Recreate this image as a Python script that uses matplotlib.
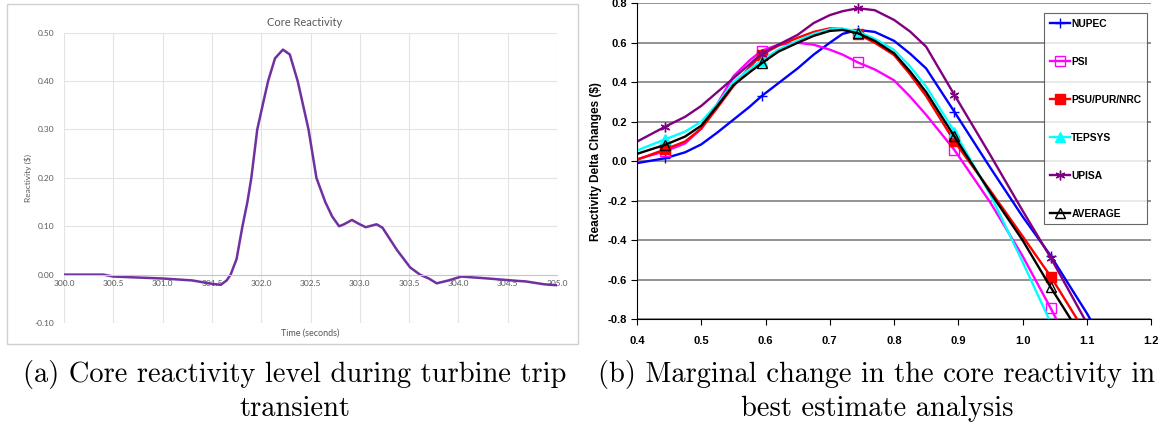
import matplotlib
matplotlib.use("Agg")
import matplotlib.pyplot as plt
from matplotlib.patches import Rectangle
from matplotlib.ticker import FormatStrFormatter, MultipleLocator

# (a) core reactivity during turbine trip
time_s = [300.0, 300.4, 300.5, 301.0, 301.3, 301.5, 301.59, 301.65, 301.69, 301.75,
          301.81, 301.86, 301.90, 301.96, 302.02, 302.07, 302.14, 302.22, 302.29, 302.37,
          302.48, 302.56, 302.65, 302.72, 302.79, 302.84, 302.92, 302.99, 303.06, 303.17,
          303.23, 303.30, 303.38, 303.51, 303.61, 303.70, 303.78, 303.90, 304.03, 304.3,
          304.6, 304.68, 304.87, 305.0]
reactivity = [0.0, 0.0, -0.004, -0.008, -0.012, -0.019, -0.021, -0.012, 0.0, 0.032,
              0.10, 0.15, 0.20, 0.30, 0.355, 0.40, 0.447, 0.465, 0.455, 0.40,
              0.30, 0.20, 0.15, 0.12, 0.10, 0.104, 0.113, 0.105, 0.098, 0.104,
              0.097, 0.075, 0.05, 0.015, 0.0, -0.008, -0.018, -0.012, -0.004, -0.008,
              -0.013, -0.014, -0.02, -0.022]

# (b) reactivity delta changes
x_curve = [0.40, 0.444, 0.475, 0.50, 0.525, 0.55, 0.575, 0.594, 0.62, 0.65,
           0.675, 0.70, 0.72, 0.744, 0.77, 0.80, 0.825, 0.85, 0.894, 0.95,
           1.00, 1.044, 1.10, 1.15]
marker_idx = [1, 7, 13, 18, 21]
nupec = [-0.01, 0.015, 0.045, 0.085, 0.145, 0.21, 0.275, 0.33, 0.395, 0.47,
         0.54, 0.60, 0.645, 0.665, 0.655, 0.61, 0.545, 0.47, 0.25, -0.034,
         -0.28, -0.48, -0.77, -1.05]
psi = [0.01, 0.05, 0.09, 0.165, 0.29, 0.43, 0.51, 0.56, 0.59, 0.60,
       0.59, 0.565, 0.54, 0.50, 0.465, 0.41, 0.327, 0.235, 0.057, -0.21,
       -0.48, -0.746, -1.10, -1.45]
psu = [0.007, 0.06, 0.10, 0.165, 0.27, 0.38, 0.475, 0.54, 0.585, 0.625,
       0.655, 0.673, 0.67, 0.643, 0.60, 0.538, 0.44, 0.33, 0.10, -0.15,
       -0.38, -0.585, -0.88, -1.17]
tepsys = [0.054, 0.111, 0.15, 0.20, 0.29, 0.40, 0.465, 0.51, 0.565, 0.61,
          0.645, 0.668, 0.672, 0.657, 0.62, 0.564, 0.48, 0.378, 0.15, -0.17,
          -0.51, -0.82, -1.20, -1.60]
upisa = [0.099, 0.175, 0.225, 0.28, 0.35, 0.42, 0.49, 0.545, 0.59, 0.64,
         0.70, 0.74, 0.76, 0.775, 0.765, 0.716, 0.657, 0.58, 0.336, 0.03,
         -0.25, -0.49, -0.82, -1.15]
average = [0.037, 0.083, 0.125, 0.18, 0.28, 0.385, 0.45, 0.496, 0.555, 0.60,
           0.635, 0.66, 0.665, 0.648, 0.61, 0.547, 0.455, 0.35, 0.125, -0.16,
           -0.40, -0.64, -0.93, -1.22]

series = [
    ("NUPEC", nupec, "#0000FF", "+", "#0000FF"),
    ("PSI", psi, "#FF00FF", "s", "none"),
    ("PSU/PUR/NRC", psu, "#FF0000", "s", "#FF0000"),
    ("TEPSYS", tepsys, "#00FFFF", "^", "#00FFFF"),
    ("UPISA", upisa, "#800080", (6, 2, 0), "#800080"),
    ("AVERAGE", average, "#000000", "^", "none"),
]

caption_a = "(a) Core reactivity level during turbine trip\ntransient"
caption_b = "(b) Marginal change in the core reactivity in\nbest estimate analysis"

W, H = 1168, 429
fig = plt.figure(figsize=(W / 100, H / 100), dpi=100)


def box(x0, y0, x1, y1):
    # pixel box (top-left origin) -> figure fraction rect
    return [x0 / W, 1 - y1 / H, (x1 - x0) / W, (y1 - y0) / H]


# ---- left panel (Excel style) ----
fig.patches.append(Rectangle((7 / W, 1 - 344 / H), 571 / W, 340 / H, transform=fig.transFigure,
                             fill=False, edgecolor="#d0d0d0", lw=1.0))
ax1 = fig.add_axes(box(64, 32.7, 557, 323))
ax1.plot(time_s, reactivity, color="#7030A0", lw=1.8)
ax1.set_xlim(300, 305)
ax1.set_ylim(-0.1, 0.5)
ax1.xaxis.set_major_locator(MultipleLocator(0.5))
ax1.yaxis.set_major_locator(MultipleLocator(0.1))
ax1.xaxis.set_major_formatter(FormatStrFormatter("%.1f"))
ax1.yaxis.set_major_formatter(FormatStrFormatter("%.2f"))
ax1.grid(True, color="#e3e3e3", lw=0.8)
ax1.set_axisbelow(True)
for s in ["top", "right", "left"]:
    ax1.spines[s].set_visible(False)
ax1.spines["bottom"].set_position(("data", 0))
ax1.spines["bottom"].set_color("#c8c8c8")
ax1.tick_params(length=0, labelsize=6, labelcolor="#595959", pad=4)
ax1.tick_params(axis="y", pad=7)
for lab in ax1.get_xticklabels() + ax1.get_yticklabels():
    lab.set_family("Lato")
fig.text(305 / W, 1 - 22 / H, "Core Reactivity", ha="center", va="center",
         fontsize=8, color="#595959", family="Lato")
fig.text(28 / W, 1 - 178 / H, "Reactivity (\\$)", ha="center", va="center", rotation=90,
         fontsize=6, color="#595959", family="Lato")
fig.text(310 / W, 1 - 333 / H, "Time (seconds)", ha="center", va="center",
         fontsize=6.5, color="#595959", family="Lato")

# ---- right panel ----
ax2 = fig.add_axes(box(637, 3.3, 1151, 319))
for name, vals, col, mk, face in series:
    ax2.plot(x_curve, vals, color=col, lw=1.7, marker=mk, markevery=marker_idx,
             markersize=7, markerfacecolor=face, markeredgecolor=col, markeredgewidth=1.0,
             label=name)
ax2.set_xlim(0.4, 1.2)
ax2.set_ylim(-0.8, 0.8)
ax2.xaxis.set_major_locator(MultipleLocator(0.1))
ax2.yaxis.set_major_locator(MultipleLocator(0.2))
ax2.xaxis.set_major_formatter(FormatStrFormatter("%.1f"))
ax2.yaxis.set_major_formatter(FormatStrFormatter("%.1f"))
ax2.grid(True, axis="y", color="#808080", lw=1.2)
ax2.set_axisbelow(True)
ax2.spines["top"].set_visible(False)
ax2.spines["right"].set_visible(False)
ax2.spines["left"].set_linewidth(0.8)
ax2.spines["bottom"].set_linewidth(0.8)
ax2.tick_params(direction="out", length=4, width=0.8, labelsize=8, pad=3)
ax2.tick_params(axis="x", pad=8)
for lab in ax2.get_xticklabels() + ax2.get_yticklabels():
    lab.set_family("Liberation Sans")
    lab.set_weight("bold")
ax2.set_ylabel("Reactivity Delta Changes (\\$)", fontsize=8.5, fontweight="bold",
               family="Liberation Sans", labelpad=4)
leg = ax2.legend(loc="upper left", bbox_to_anchor=(0.792, 0.969), frameon=True, fancybox=False,
                 prop={"family": "Liberation Sans", "weight": "bold", "size": 7.4},
                 labelspacing=2.72, handlelength=2.0, handletextpad=0.1, borderpad=0.55,
                 borderaxespad=0)
leg.get_frame().set_edgecolor("#404040")
leg.get_frame().set_linewidth(0.8)

# ---- captions ----
fig.text(295 / W, 1 - 391 / H, caption_a, ha="center", va="center", family="cmr10",
         fontsize=20.5, linespacing=1.3, multialignment="center")
fig.text(877 / W, 1 - 391 / H, caption_b, ha="center", va="center", family="cmr10",
         fontsize=20.5, linespacing=1.3, multialignment="center")

fig.savefig("out.png", dpi=100)
